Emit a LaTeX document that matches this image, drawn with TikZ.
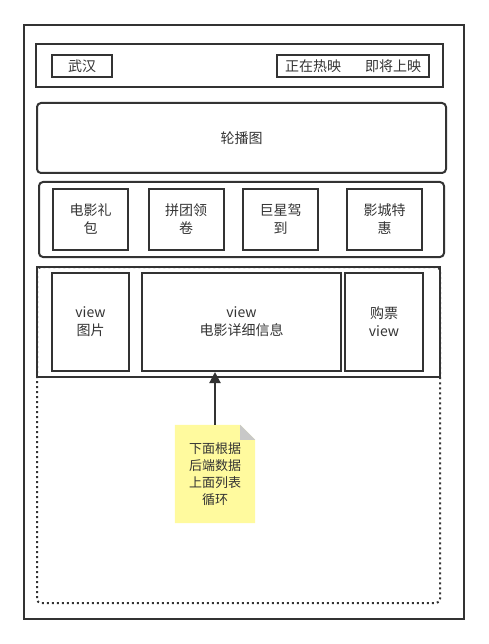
\documentclass[tikz,border=0pt]{standalone}
\usepackage{fontspec}
\setmainfont{Noto Sans CJK SC}
\usetikzlibrary{arrows.meta}
\definecolor{line}{HTML}{333333}
\definecolor{notefill}{HTML}{FFFA9E}
\definecolor{foldgray}{HTML}{C8C8C8}

\begin{document}
\begin{tikzpicture}[x=1pt, y=-1pt,
  box/.style={draw=line, line width=2pt, inner sep=0pt, align=center, text=line,
    font=\fontsize{14}{18}\selectfont},
  round/.style={box, rounded corners=4pt}]
\useasboundingbox (0,0) rectangle (489,644);
\draw [line, line width=2pt, rounded corners=4pt, dash pattern=on 2pt off 3pt] (37,267) rectangle (440,603);
\node [box, minimum width=440, minimum height=594] (frame) at (244,322) {};
\node [box, minimum width=407, minimum height=43] (topbar) at (239.5,65.5) {};
\node [box, minimum width=60, minimum height=22] (city) at (82,66) {武汉};
\node [box, minimum width=152, minimum height=22] (tabs) at (353,66) {正在热映\hspace{24pt}即将上映};
\node [round, minimum width=409, minimum height=70] (banner) at (241.5,138) {轮播图};
\node [round, minimum width=405, minimum height=75] (menu) at (241.5,219.5) {};
\node [box, minimum width=75, minimum height=61] (gift) at (90.5,219.5) {电影礼\\包};
\node [box, minimum width=75, minimum height=61] (group) at (186,219.5) {拼团领\\卷};
\node [box, minimum width=75, minimum height=61] (star) at (280.5,219.5) {巨星驾\\到};
\node [box, minimum width=75, minimum height=61] (cinema) at (384.5,219.5) {影城特\\惠};
\node [box, minimum width=403, minimum height=110] (row) at (238.5,322) {};
\node [box, minimum width=77, minimum height=98] (poster) at (90.5,322) {view\\图片};
\node [box, minimum width=199, minimum height=98] (detail) at (241.5,322) {view\\电影详细信息};
\node [box, minimum width=78, minimum height=98] (buy) at (384,322) {购票\\view};
\node [inner sep=0pt, minimum width=80, minimum height=98] (note) at (215,474) {};
\fill [notefill] (note.south west) -- (note.north west) -- ([xshift=-15pt]note.north east)
  -- ([yshift=-15pt]note.north east) -- (note.south east) -- cycle;
\fill [foldgray] ([xshift=-15pt]note.north east) -- ([yshift=-15pt]note.north east)
  -- ([xshift=-15pt,yshift=-15pt]note.north east) -- cycle;
\node [align=center, text=line, inner sep=0pt, font=\fontsize{13}{17}\selectfont] (notetext)
  at (note) {下面根据\\后端数据\\上面列表\\循环};
\draw [line, line width=2pt, -{Triangle[length=11pt, width=11pt]}] (note.north) -- (note.north |- detail.south);
\end{tikzpicture}
\end{document}
